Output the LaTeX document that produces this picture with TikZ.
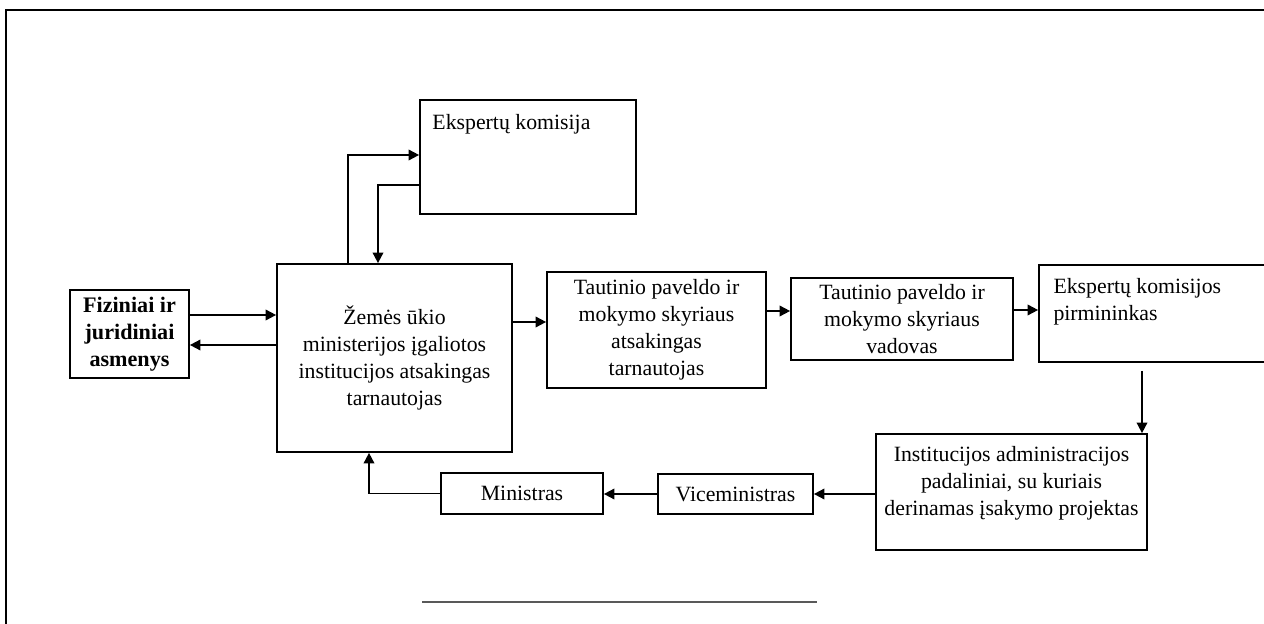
\documentclass[tikz,border=0pt]{standalone}
\usepackage{fontspec}
\setmainfont{Liberation Serif}
\usepackage{tikz}
\usetikzlibrary{arrows.meta}

\begin{document}
\begin{tikzpicture}[x=0.02cm, y=-0.02cm,
	box/.style={draw, line width=1pt, inner sep=1pt, align=center, font=\fontsize{12.4}{15.3}\selectfont},
	txt/.style={anchor=north west, inner sep=0pt, align=left, font=\fontsize{12.4}{15.3}\selectfont},
	arr/.style={line width=1pt, -{Triangle[length=6pt, width=6pt]}}]
	\useasboundingbox (0,0) rectangle (1264,624);
	% Frame:
	\draw[line width=1.2pt] (6,640) |- (1280,10);
	% Boxes and texts:
	\node[box, minimum width=4.32cm, minimum height=2.28cm](EK) at (528,157){};
	\node[txt] at ([shift={(13,14.5)}]EK.north west){Ekspertų komisija};
	\node[box, minimum width=4.7cm, minimum height=3.76cm](ZUM) at (394.5,358){Žemės ūkio\\ministerijos įgaliotos\\institucijos atsakingas\\tarnautojas};
	\node[box, minimum width=2.38cm, minimum height=1.76cm, font=\fontsize{12.6}{15.3}\selectfont\bfseries](FJA) at (129.5,334){Fiziniai ir\\juridiniai\\asmenys};
	\node[box, minimum width=4.38cm, minimum height=2.32cm](TPS1) at (656.5,330){Tautinio paveldo ir\\mokymo skyriaus\\atsakingas\\tarnautojas};
	\node[box, minimum width=4.44cm, minimum height=1.64cm](TPS2) at (902,319){Tautinio paveldo ir\\mokymo skyriaus\\vadovas};
	\node[box, minimum width=5.2cm, minimum height=1.94cm](PIR) at (1169,313.5){};
	\node[txt] at ([shift={(15,14)}]PIR.north west){Ekspertų komisijos\\pirmininkas};
	\node[box, minimum width=5.42cm, minimum height=2.32cm](INST) at (1011.5,492){};
	\node[align=center, font=\fontsize{12.4}{15.3}\selectfont] at ([yshift=0.18cm]INST.center){Institucijos administracijos\\padaliniai, su kuriais\\derinamas įsakymo projektas};
	\node[box, minimum width=3.1cm, minimum height=0.8cm](VM) at (735.5,494){Viceministras};
	\node[box, minimum width=3.24cm, minimum height=0.82cm](MIN) at (522,493.5){Ministras};
	% Arrows:
	\draw[arr] (FJA.east |- 0,315) -- (ZUM.west |- 0,315);
	\draw[arr] (ZUM.west |- 0,345) -- (FJA.east |- 0,345);
	\draw[arr] (ZUM.north -| 348,0) |- (EK.west |- 0,155);
	\draw[arr] (EK.west |- 0,185) -| (ZUM.north -| 378,0);
	\draw[arr] (ZUM.east |- 0,322) -- (TPS1.west |- 0,322);
	\draw[arr] (TPS1.east |- 0,311) -- (TPS2.west |- 0,311);
	\draw[arr] (TPS2.east |- 0,310) -- (PIR.west |- 0,310);
	\draw[arr, shorten <=0.16cm] (PIR.south -| 1142,0) -- (INST.north -| 1142,0);
	\draw[arr] (INST.west |- VM.east) -- (VM.east);
	\draw[arr] (VM.west) -- (MIN.east |- VM.west);
	\draw[arr] (MIN.west) -| (ZUM.south -| 369,0);
	% Line below:
	\draw[line width=0.9pt, black!65] (422,602) -- (817,602);
\end{tikzpicture}
\end{document}
